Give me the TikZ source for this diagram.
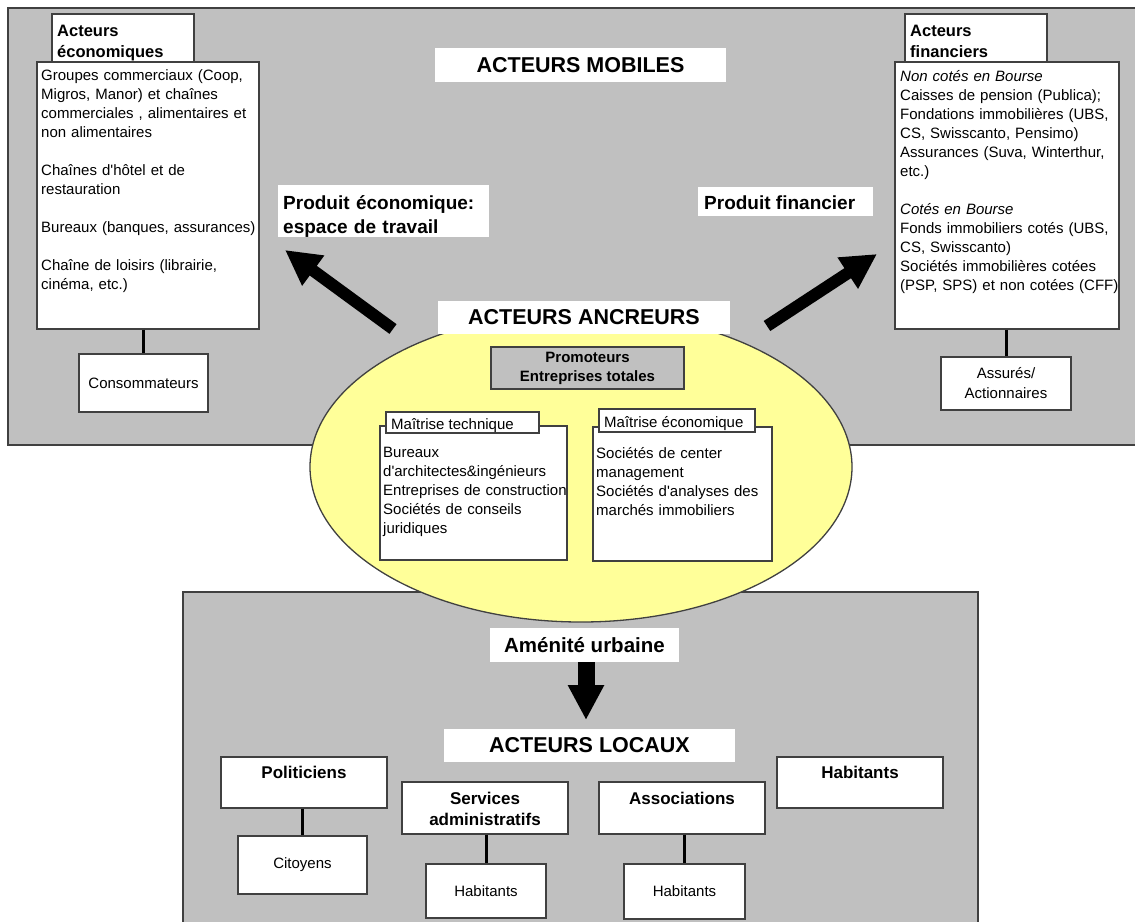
\documentclass[tikz,border=0pt]{standalone}
\usepackage{fontspec}
\setmainfont{Liberation Sans}
\usetikzlibrary{arrows.meta,shapes.geometric}
\definecolor{panelgray}{RGB}{192,192,192}
\definecolor{edgegray}{RGB}{64,64,64}
\definecolor{ellyellow}{RGB}{255,255,153}
\begin{document}
\begin{tikzpicture}[x=1pt,y=-1pt,
  panel/.style={fill=panelgray,draw=edgegray,line width=1.3pt},
  bx/.style 2 args={draw=edgegray,fill=white,line width=1.3pt,inner sep=0pt,minimum width=#1,minimum height=#2,align=center,font=\fontsize{15}{20}\selectfont},
  lbl/.style 2 args={fill=white,inner sep=0pt,minimum width=#1,minimum height=#2,font=\fontsize{21.5}{25}\selectfont\bfseries},
  conn/.style={line width=3pt,black},
  bigarrow/.style={line width=12pt,black,-{Triangle[length=35pt,width=35pt]}},
  body/.style={anchor=base west,inner sep=0pt,text width=235pt,align=left,font=\fontsize{15}{19}\selectfont},
  hd/.style={anchor=base west,inner sep=0pt,text width=140pt,align=left,font=\fontsize{16.5}{21}\selectfont\bfseries},
  bt/.style={anchor=base,inner sep=0pt,text width=160pt,align=center,font=\fontsize{17}{21}\selectfont\bfseries}
]
\useasboundingbox (0,0) rectangle (1135,921);
% panels
\draw[panel] (8,8) rectangle (1145,445);
\draw[panel] (183,592) rectangle (978,935);

% top left
\node[bx={142}{48}] (ecoTitle) at (123,38) {};
\node[hd] (ecoTitleT) at (57,36) {Acteurs\\économiques};
\node[bx={222}{267}] (ecoMain) at (148,195.5) {};
\node[body] (ecoTxt) at (41,80.5) {Groupes commerciaux (Coop,\\ Migros, Manor) et chaînes\\ commerciales , alimentaires et\\ non alimentaires\\[19pt] Chaînes d\textquotesingle hôtel et de\\ restauration\\[19pt] Bureaux (banques, assurances)\\[19pt] Chaîne de loisirs (librairie,\\ cinéma, etc.)};
\node[bx={129}{58}] (conso) at (143.5,383) {Consommateurs};
\draw[conn] (conso.north |- ecoMain.south) -- (conso.north);

% top right
\node[bx={142}{48}] (finTitle) at (976,38) {};
\node[hd] (finTitleT) at (910,36) {Acteurs\\financiers};
\node[bx={224}{267}] (finMain) at (1007,195.5) {};
\node[body] (finTxt) at (900,81.5) {\textit{Non cotés en Bourse}\\ Caisses de pension (Publica);\\ Fondations immobilières (UBS,\\ CS, Swisscanto, Pensimo)\\ Assurances (Suva, Winterthur,\\ etc.)\\[19pt] \textit{Cotés en Bourse}\\ Fonds immobiliers cotés (UBS,\\ CS, Swisscanto)\\ Sociétés immobilières cotées\\ (PSP, SPS) et non cotées (CFF)};
\node[bx={130}{53}] (assur) at (1006,383.5) {Assurés/\\Actionnaires};
\draw[conn] (assur.north |- finMain.south) -- (assur.north);

% labels top
\node[lbl={291}{34}] (mobiles) at (580.5,65) {ACTEURS MOBILES};
\node[lbl={211}{52}] (prodEco) at (383.5,211) {};
\node[anchor=base west,inner sep=0pt,text width=205pt,align=left,font=\fontsize{19}{24}\selectfont\bfseries] (prodEcoT) at (283,209) {Produit économique:\\espace de travail};
\node[lbl={175}{29}] (prodFin) at (785.5,201.5) {};
\node[anchor=base west,inner sep=0pt,font=\fontsize{19}{24}\selectfont\bfseries] (prodFinT) at (704,209.5) {Produit financier};

% ellipse
\node[ellipse,draw=edgegray,line width=1.3pt,fill=ellyellow,minimum width=542,minimum height=310,inner sep=0pt] (anc) at (581,467) {};

% arrows
\coordinate (aLt) at (393,329);
\coordinate (aLh) at (285,250);
\coordinate (aRt) at (767,326);
\coordinate (aRh) at (877,254);
\draw[bigarrow] (aLt) -- (aLh);
\draw[bigarrow] (aRt) -- (aRh);

\node[lbl={292}{33}] (ancreurs) at (584,317.5) {ACTEURS ANCREURS};
\node[bx={193}{42},fill=panelgray,font=\fontsize{15}{19}\selectfont\bfseries] (promo) at (587.5,368) {Promoteurs\\Entreprises totales};

\node[bx={187}{134}] (techMain) at (473.5,493) {};
\node[bx={153}{21}] (techTab) at (462.5,422.5) {};
\node[anchor=base west,inner sep=0pt,font=\fontsize{15}{19}\selectfont] (techTabT) at (391,429.5) {Maîtrise technique};
\node[body] (techTxt) at (383,457.5) {Bureaux\\ d\textquotesingle architectes\&ingénieurs\\ Entreprises de construction\\ Sociétés de conseils\\ juridiques};

\node[bx={179}{134}] (econMain) at (682.5,494) {};
\node[bx={156}{23}] (econTab) at (677,420.5) {};
\node[anchor=base west,inner sep=0pt,font=\fontsize{15}{19}\selectfont] (econTabT) at (604,427.5) {Maîtrise économique};
\node[body] (econTxt) at (596,458.5) {Sociétés de center\\ management\\ Sociétés d\textquotesingle analyses des\\ marchés immobiliers};

% bottom
\coordinate (aDt) at (586,632);
\coordinate (aDh) at (586,720);
\draw[line width=17pt,black,-{Triangle[length=35pt,width=34pt]}] (aDt) -- (aDh);
\node[lbl={189}{34},font=\fontsize{20.5}{24}\selectfont\bfseries] (amenite) at (584.5,645) {Aménité urbaine};
\node[lbl={291}{33}] (locaux) at (589.5,745.5) {ACTEURS LOCAUX};

\node[bx={166}{51}] (pol) at (304,782.5) {};
\node[bt] (polT) at (304,778) {Politiciens};
\node[bx={129}{58}] (cit) at (302.5,865) {Citoyens};
\draw[conn] (cit.north |- pol.south) -- (cit.north);

\node[bx={166}{52}] (serv) at (485,808) {};
\node[bt] (servT) at (485,804) {Services\\administratifs};
\node[bx={120}{54}] (hab1) at (486,891) {Habitants};
\draw[conn] (hab1.north |- serv.south) -- (hab1.north);

\node[bx={166}{52}] (assoc) at (682,808) {};
\node[bt] (assocT) at (682,804) {Associations};
\node[bx={121}{55}] (hab2) at (684.5,891.5) {Habitants};
\draw[conn] (hab2.north |- assoc.south) -- (hab2.north);

\node[bx={166}{51}] (habB) at (860,782.5) {};
\node[bt] (habBT) at (860,778) {Habitants};
\end{tikzpicture}
\end{document}
